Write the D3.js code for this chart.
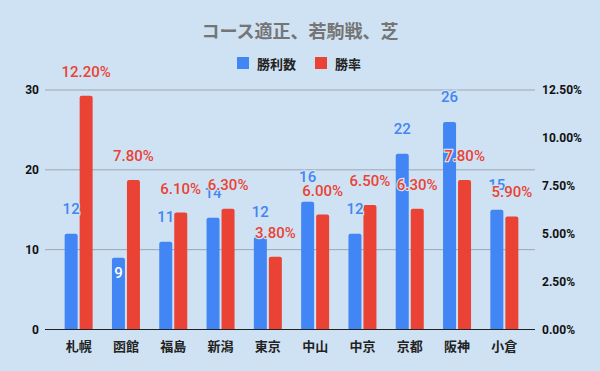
<!DOCTYPE html>
<html>
<head>
<meta charset="utf-8">
<script src="https://cdn.jsdelivr.net/npm/d3@7"></script>
<style>
  body { margin: 0; background: #cfe2f3; }
  svg { display: block; font-family: Roboto, "Noto Sans CJK JP", sans-serif; }
</style>
</head>
<body>
<div id="chart"></div>
<script>
// chart values
const venues = ["札幌", "函館", "福島", "新潟", "東京", "中山", "中京", "京都", "阪神", "小倉"];
const wins = [12, 9, 11, 14, 11.6, 16, 12, 22, 26, 15];
const winRate = [12.2, 7.8, 6.1, 6.3, 3.8, 6.0, 6.5, 6.3, 7.8, 5.9];
const leftTicks = [0, 10, 20, 30];
const rightTicks = [0, 2.5, 5, 7.5, 10, 12.5];
const insideLabels = ["函館"]; // blue label drawn inside the bar

const width = 600, height = 371;
const bg = "#cfe2f3";
const blue = "#4285f4", red = "#ea4335";

const svg = d3.select("#chart").append("svg")
  .attr("width", width)
  .attr("height", height);

svg.append("rect").attr("width", width).attr("height", height).attr("fill", bg);

// scales
const x = d3.scaleBand().domain(venues).range([55, 528]);
const yL = d3.scaleLinear().domain([0, 30]).range([329.5, 90]);
const yR = d3.scaleLinear().domain([0, 12.5]).range([329.5, 90]);
const barW = 13, gap = 2;

// title
svg.append("text")
  .attr("x", 300).attr("y", 38)
  .attr("text-anchor", "middle")
  .attr("font-family", "'Noto Sans CJK JP', sans-serif")
  .attr("font-size", 18).attr("font-weight", "bold")
  .attr("fill", "#757575")
  .text("コース適正、若駒戦、芝");

// legend
const legend = [["勝利数", blue, 237], ["勝率", red, 315]];
legend.forEach(([name, color, lx]) => {
  svg.append("rect").attr("x", lx).attr("y", 57).attr("width", 12).attr("height", 12).attr("fill", color);
  svg.append("text")
    .attr("x", lx + 20).attr("y", 63)
    .attr("dominant-baseline", "central")
    .attr("font-family", "'Noto Sans CJK JP', sans-serif")
    .attr("font-size", 13).attr("font-weight", "bold")
    .attr("fill", "#222")
    .text(name);
});

// gridlines
svg.append("g").selectAll("line")
  .data(leftTicks.filter(d => d > 0))
  .join("line")
  .attr("x1", 45).attr("x2", 535)
  .attr("y1", d => yL(d)).attr("y2", d => yL(d))
  .attr("stroke", "#9aa6b2").attr("stroke-width", 1);

// left axis
const axL = svg.append("g")
  .attr("transform", "translate(45,0)")
  .call(d3.axisLeft(yL).tickValues(leftTicks).tickSize(0).tickPadding(6));
axL.select(".domain").remove();
axL.selectAll("text").attr("font-size", 12).attr("font-weight", "bold").attr("fill", "#111")
  .attr("font-family", "Roboto, sans-serif");

// right axis
const axR = svg.append("g")
  .attr("transform", "translate(535,0)")
  .call(d3.axisRight(yR).tickValues(rightTicks).tickSize(0).tickPadding(7)
    .tickFormat(d => d.toFixed(2) + "%"));
axR.select(".domain").remove();
axR.selectAll("text").attr("font-size", 12).attr("font-weight", "bold").attr("fill", "#111")
  .attr("font-family", "Roboto, sans-serif");

// bars
function topRounded(x0, y0, w, h, r) {
  r = Math.min(r, h);
  return `M${x0},${y0 + h}V${y0 + r}Q${x0},${y0} ${x0 + r},${y0}H${x0 + w - r}Q${x0 + w},${y0} ${x0 + w},${y0 + r}V${y0 + h}Z`;
}
const cx = v => x(v) + x.bandwidth() / 2;

svg.append("g").selectAll("path")
  .data(venues)
  .join("path")
  .attr("d", (v, i) => topRounded(cx(v) - gap / 2 - barW, yL(wins[i]), barW, yL(0) - yL(wins[i]), 2))
  .attr("fill", blue);

svg.append("g").selectAll("path")
  .data(venues)
  .join("path")
  .attr("d", (v, i) => topRounded(cx(v) + gap / 2, yR(winRate[i]), barW, yR(0) - yR(winRate[i]), 2))
  .attr("fill", red);

// baseline
svg.append("line")
  .attr("x1", 45).attr("x2", 535)
  .attr("y1", yL(0)).attr("y2", yL(0))
  .attr("stroke", "#222").attr("stroke-width", 1.2);

// category labels
svg.append("g").selectAll("text")
  .data(venues)
  .join("text")
  .attr("x", v => cx(v)).attr("y", 345)
  .attr("text-anchor", "middle")
  .attr("dominant-baseline", "central")
  .attr("font-family", "'Noto Sans CJK JP', sans-serif")
  .attr("font-size", 13).attr("font-weight", "bold")
  .attr("fill", "#222")
  .text(v => v);

// data labels
svg.append("g").selectAll("text")
  .data(venues)
  .join("text")
  .attr("x", v => cx(v) - gap / 2 - barW / 2)
  .attr("y", (v, i) => insideLabels.includes(v) ? yL(wins[i]) + 15 : yL(wins[i]) - 25)
  .attr("text-anchor", "middle")
  .attr("dominant-baseline", "central")
  .attr("font-size", 15).attr("font-weight", 500)
  .attr("fill", v => insideLabels.includes(v) ? "#fff" : blue)
  .attr("stroke", v => insideLabels.includes(v) ? "none" : bg)
  .attr("stroke-width", 2.5).attr("paint-order", "stroke")
  .text((v, i) => d3.format(".0f")(wins[i]));

svg.append("g").selectAll("text")
  .data(venues)
  .join("text")
  .attr("x", v => cx(v) + gap / 2 + barW / 2)
  .attr("y", (v, i) => yR(winRate[i]) - 24)
  .attr("text-anchor", "middle")
  .attr("dominant-baseline", "central")
  .attr("font-size", 15).attr("font-weight", 500)
  .attr("fill", red)
  .attr("stroke", bg).attr("stroke-width", 2.5).attr("paint-order", "stroke")
  .text((v, i) => winRate[i].toFixed(2) + "%");
</script>
</body>
</html>
